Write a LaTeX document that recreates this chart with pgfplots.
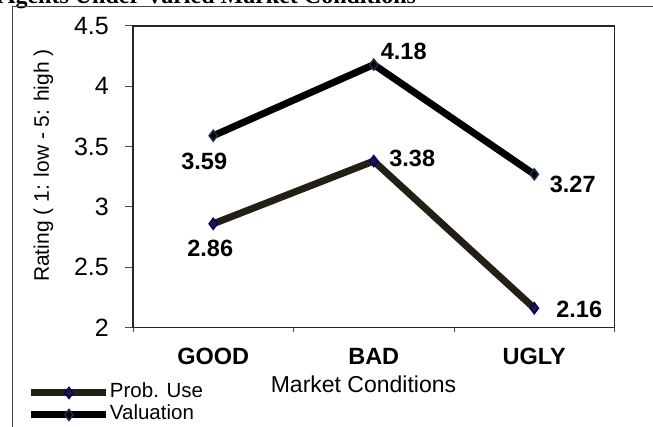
\documentclass[border=0pt]{standalone}
\usepackage{pgfplots}
\pgfplotsset{compat=1.18}
\usepackage{pgfplotstable}
\usepackage{fontspec}
\setmainfont{Liberation Sans}
\newfontfamily\titlefont{Liberation Serif}

\definecolor{probuse}{RGB}{35,31,20}
\definecolor{probedge}{RGB}{0,0,128}
\definecolor{valedge}{RGB}{28,47,74}
\definecolor{framegray}{RGB}{70,70,70}

% x: market condition index (GOOD, BAD, UGLY), y: mean rating
\pgfplotstableread{
x y
0 2.86
1 3.38
2 2.16
}\probusedata
\pgfplotstableread{
x y
0 3.59
1 4.18
2 3.27
}\valuationdata

\pgfplotsset{
  /pgf/number format/assume math mode=true,
  value labels/.style={
    draw=none, mark=none, forget plot,
    nodes near coords,
    point meta=explicit symbolic,
    nodes near coords style={font=\bfseries\fontsize{23.5}{27}\selectfont,
      anchor=center, inner sep=0pt, text=black},
  },
}

\begin{document}
\begin{tikzpicture}
\useasboundingbox (0pt,0pt) rectangle (653pt,427pt);
\clip (0pt,0pt) rectangle (653pt,427pt);
\node[anchor=base west, inner sep=0pt,
      font=\titlefont\bfseries\fontsize{24}{28}\selectfont]
  at (-2pt,423.5pt) {Agents Under Varied Market Conditions};
\draw[framegray, line width=1.2pt] (12.7pt,0pt) -- (12.7pt,420.3pt) -- (653pt,420.3pt);
\begin{axis}[
  at={(133pt,99.5pt)}, anchor=south west,
  scale only axis, width=481.5pt, height=301.5pt,
  xmin=-0.5, xmax=2.5, ymin=2, ymax=4.5,
  ytick={2,2.5,3,3.5,4,4.5},
  yticklabels={2,2.5,3,3.5,4,4.5},
  xtick={0,1,2}, xticklabels={GOOD,BAD,UGLY},
  minor xtick={-0.5,0.5,1.5,2.5},
  tick align=outside, tick pos=left,
  major tick length=8pt, minor tick length=5pt,
  major x tick style={draw=none},
  tick style={black!70, line width=1pt},
  axis line style={black!85, line width=1.1pt},
  y tick label style={font=\fontsize{25}{29}\selectfont, anchor=east,
    inner sep=0pt, xshift=-16pt},
  x tick label style={font=\bfseries\fontsize{23.5}{27}\selectfont, anchor=north,
    inner sep=0pt, text height=17pt, text depth=0pt, yshift=-12pt},
  xlabel={Market Conditions},
  xlabel style={font=\fontsize{23}{27}\selectfont,
    at={(axis description cs:0.4787,-0.2156)}, anchor=base},
  ylabel={Rating ( 1: low - 5: high )},
  ylabel style={font=\fontsize{21}{25}\selectfont,
    at={(axis description cs:-0.1745,0.537)}, anchor=base},
  legend style={at={(axis description cs:-0.2181,-0.1856)}, anchor=north west,
    draw=none, fill=none, inner sep=0pt, outer sep=0pt, row sep=0pt,
    font=\fontsize{20.5}{23}\selectfont,
    nodes={inner sep=0pt, text height=14.5pt, text depth=7.5pt},
    /tikz/every odd column/.append style={column sep=0pt}},
  legend cell align=left,
  legend image code/.code={\draw[#1, mark repeat=2, mark phase=2]
    plot coordinates {(0pt,1.5pt) (37.5pt,1.5pt) (75pt,1.5pt)};},
  clip=false,
]
\addplot[probuse, line width=7pt, mark=diamond*, mark size=5.5pt,
  mark options={fill=probuse, draw=probedge, line width=1.5pt}]
  table[x=x, y=y] {\probusedata};
\addlegendentry{Prob. Use}
\addplot[black, line width=7pt, mark=diamond*, mark size=5.5pt,
  mark options={fill=black, draw=valedge, line width=1.5pt}]
  table[x=x, y=y] {\valuationdata};
\addlegendentry{Valuation}
% value labels beside each point
\addplot[value labels,
  coordinate style/.condition={x==0}{xshift=-3pt, yshift=-25pt},
  coordinate style/.condition={x==1}{xshift=38.5pt, yshift=3pt},
  coordinate style/.condition={x==2}{xshift=45pt, yshift=-1pt}]
  table[x=x, y=y, meta=y] {\probusedata};
\addplot[value labels,
  coordinate style/.condition={x==0}{xshift=-9pt, yshift=-25.5pt},
  coordinate style/.condition={x==1}{xshift=30pt, yshift=13pt},
  coordinate style/.condition={x==2}{xshift=38.5pt, yshift=-10pt}]
  table[x=x, y=y, meta=y] {\valuationdata};
\end{axis}
\end{tikzpicture}
\end{document}
